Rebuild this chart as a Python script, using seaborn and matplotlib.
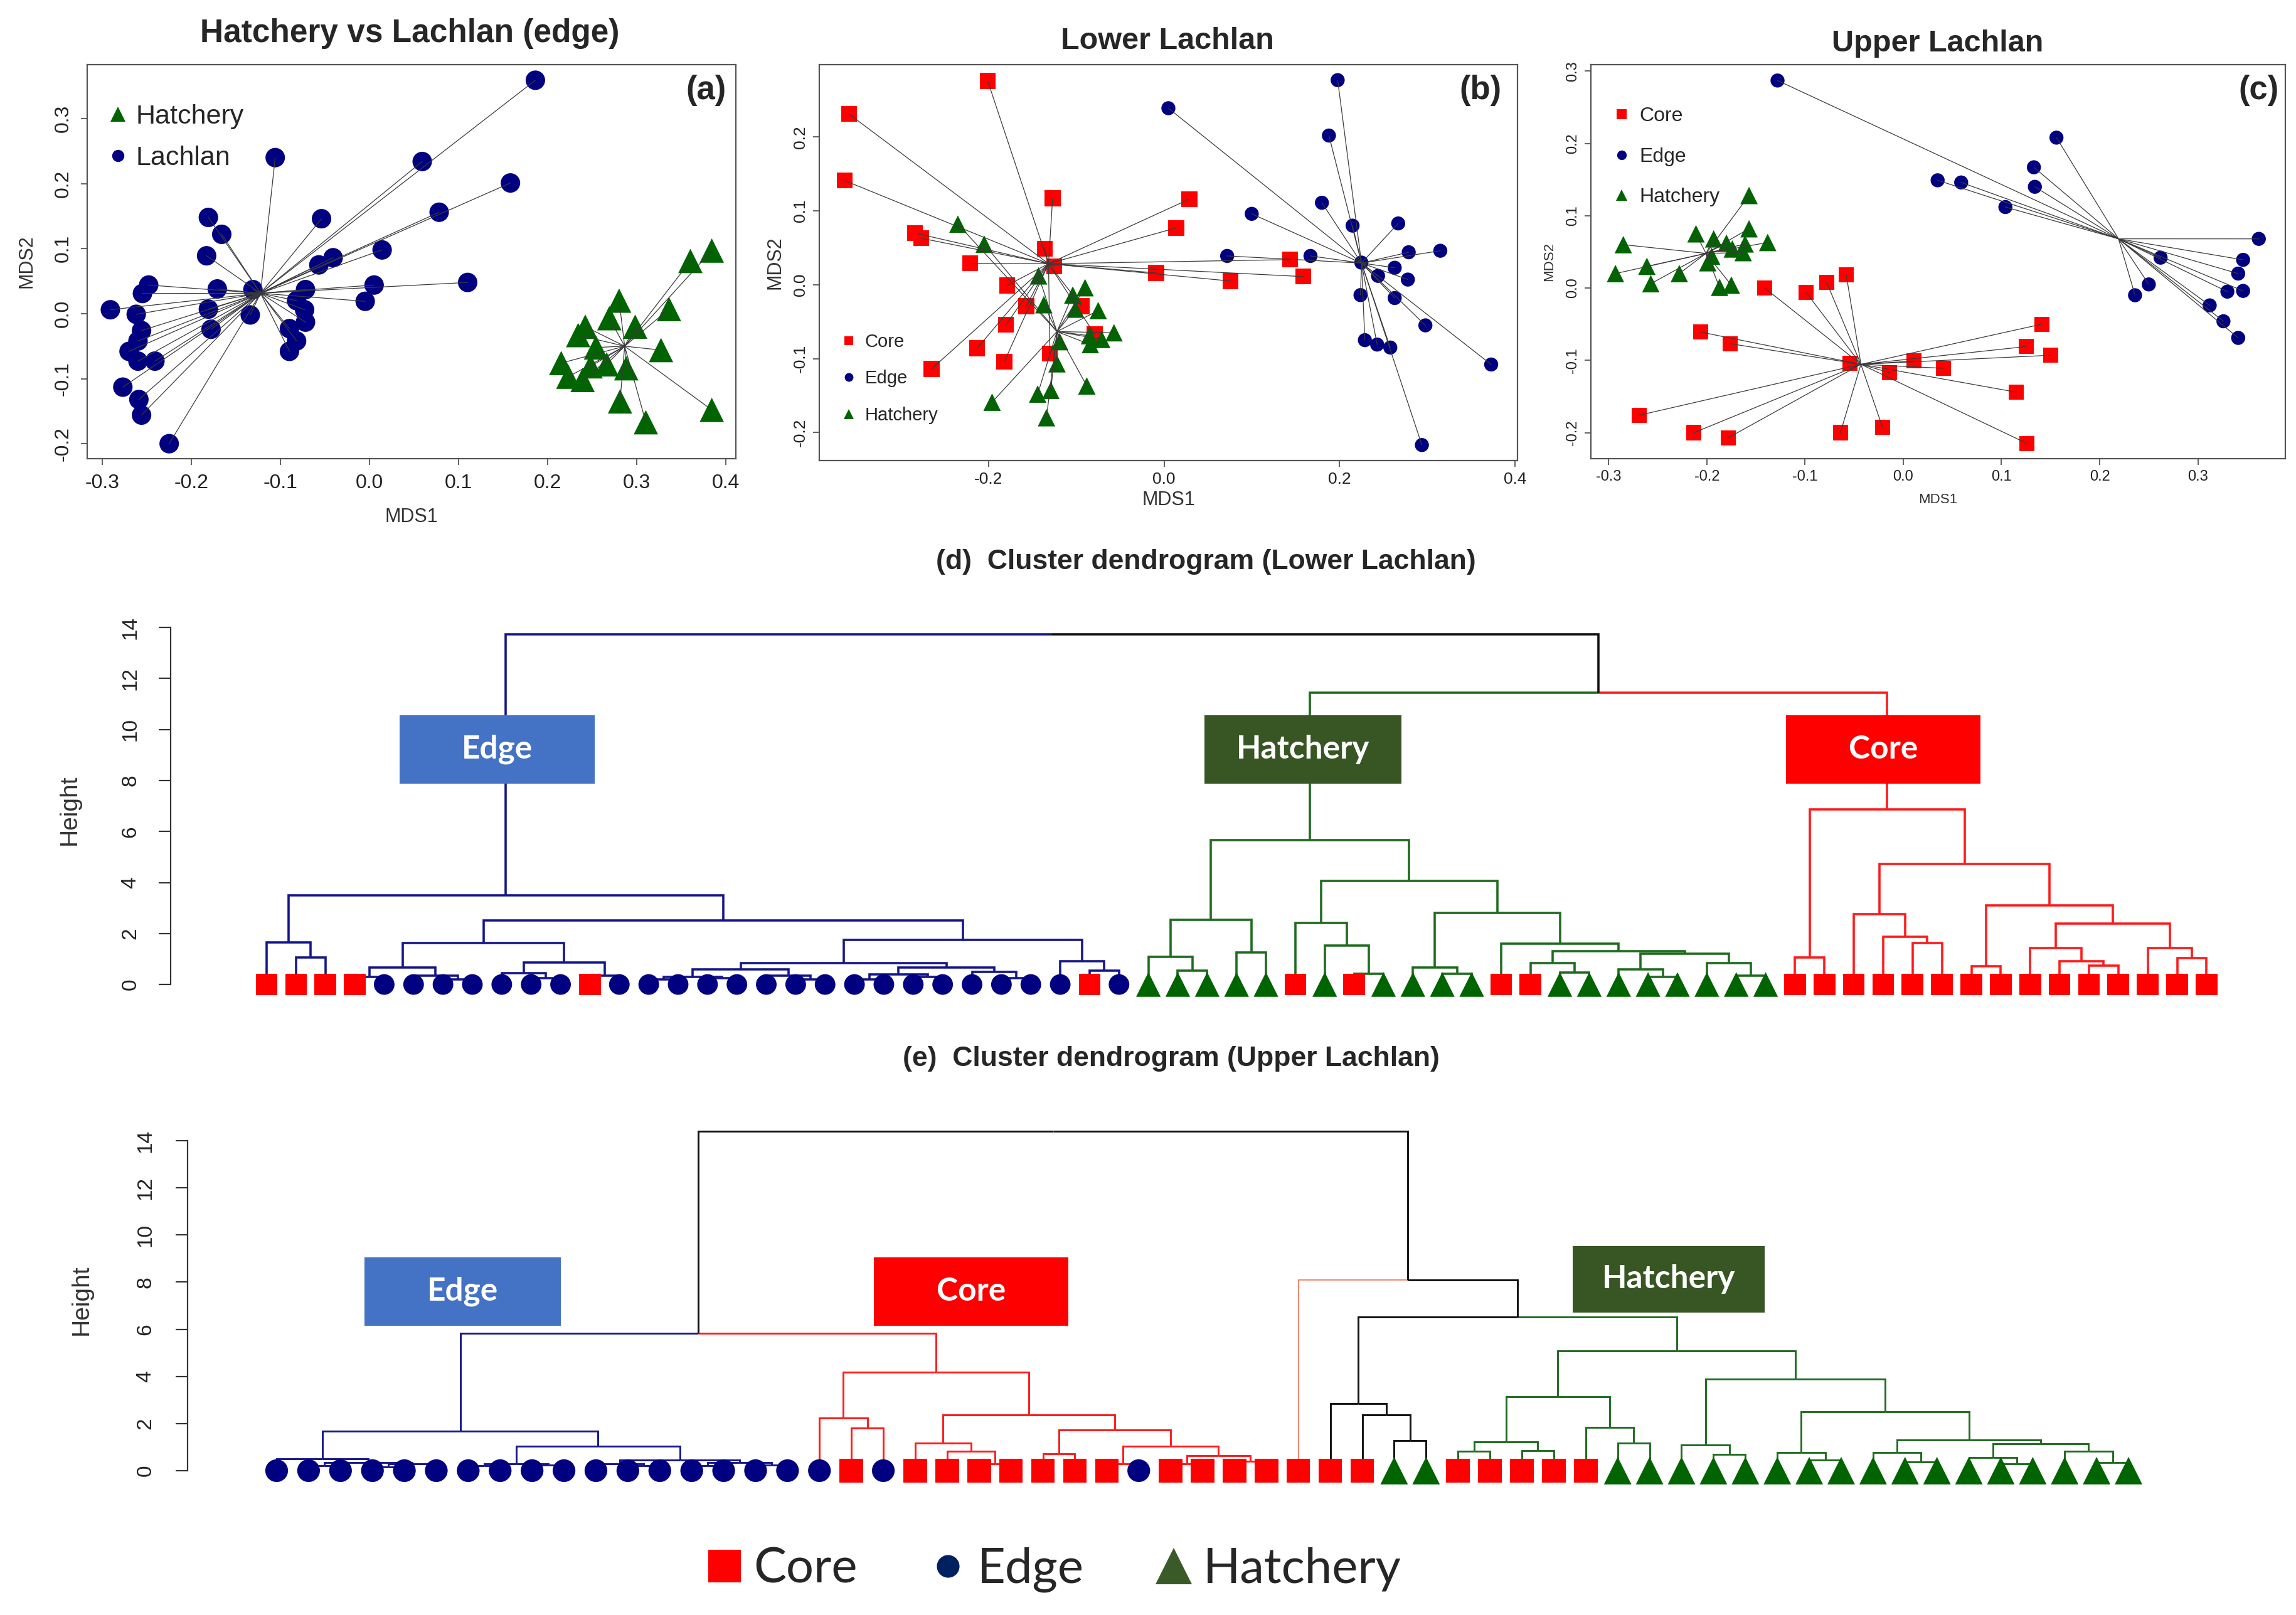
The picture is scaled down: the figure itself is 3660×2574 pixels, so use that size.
import matplotlib
matplotlib.use("Agg")
import matplotlib.pyplot as plt
from matplotlib.lines import Line2D
from matplotlib.patches import Rectangle
import seaborn as sns
import numpy as np
import pandas as pd

# ======================= DATA =======================
# (a) Hatchery vs Lachlan (edge)  -- NMDS scores
a_lach_x = [0.186, -0.106, 0.059, 0.158, 0.078, -0.181, -0.054, -0.166, -0.183, 0.014, -0.041, -0.057, 0.110, 0.005,
            -0.005, -0.248, -0.255, -0.171, -0.131, -0.072, -0.291, -0.262, -0.181, -0.134, -0.082, -0.073, -0.072,
            -0.256, -0.178, -0.090, -0.260, -0.082, -0.270, -0.090, -0.260, -0.241, -0.277, -0.259, -0.256, -0.225]
a_lach_y = [0.359, 0.240, 0.234, 0.201, 0.156, 0.148, 0.146, 0.122, 0.089, 0.098, 0.086, 0.075, 0.048, 0.044,
            0.019, 0.044, 0.031, 0.038, 0.037, 0.037, 0.006, -0.001, 0.007, -0.002, 0.020, 0.006, -0.013,
            -0.026, -0.024, -0.023, -0.042, -0.042, -0.058, -0.058, -0.073, -0.073, -0.113, -0.132, -0.156, -0.200]
a_hatch_x = [0.384, 0.360, 0.336, 0.280, 0.269, 0.242, 0.298, 0.234, 0.254, 0.327, 0.215, 0.248, 0.266, 0.288,
             0.223, 0.239, 0.281, 0.384, 0.310]
a_hatch_y = [0.097, 0.081, 0.007, 0.020, -0.007, -0.020, -0.020, -0.033, -0.052, -0.056, -0.076, -0.081, -0.078,
             -0.084, -0.097, -0.102, -0.135, -0.148, -0.167]

# (b) Lower Lachlan
b_core_x = [-0.201, -0.359, -0.364, -0.127, 0.029, 0.014, -0.284, -0.277, -0.136, -0.221, -0.125, 0.144, -0.009,
            0.159, 0.076, -0.179, -0.157, -0.094, -0.180, -0.079, -0.213, -0.130, -0.182, -0.265]
b_core_y = [0.276, 0.231, 0.141, 0.117, 0.116, 0.077, 0.070, 0.063, 0.049, 0.029, 0.025, 0.034, 0.016, 0.011,
            0.005, -0.001, -0.029, -0.029, -0.054, -0.067, -0.086, -0.093, -0.104, -0.114]
b_edge_x = [0.198, 0.005, 0.188, 0.180, 0.100, 0.215, 0.267, 0.279, 0.315, 0.072, 0.167, 0.225, 0.263, 0.244,
            0.278, 0.224, 0.263, 0.298, 0.229, 0.243, 0.258, 0.373, 0.294]
b_edge_y = [0.277, 0.239, 0.202, 0.111, 0.096, 0.080, 0.083, 0.044, 0.046, 0.039, 0.039, 0.030, 0.023, 0.012,
            0.007, -0.014, -0.018, -0.055, -0.075, -0.081, -0.085, -0.108, -0.217]
b_hatch_x = [-0.235, -0.205, -0.143, -0.090, -0.104, -0.137, -0.101, -0.075, -0.057, -0.085, -0.071, -0.119,
             -0.084, -0.122, -0.088, -0.144, -0.129, -0.196, -0.134]
b_hatch_y = [0.082, 0.055, 0.012, -0.004, -0.014, -0.027, -0.033, -0.035, -0.065, -0.069, -0.074, -0.077,
             -0.081, -0.107, -0.137, -0.148, -0.143, -0.159, -0.180]

# (c) Upper Lachlan
c_core_x = [-0.058, -0.078, -0.141, -0.099, 0.141, -0.206, -0.176, 0.125, 0.150, -0.054, 0.011, 0.041, -0.014,
            0.115, -0.269, -0.213, -0.178, -0.064, -0.021, 0.126]
c_core_y = [0.018, 0.008, 0.000, -0.006, -0.050, -0.061, -0.077, -0.081, -0.093, -0.104, -0.101, -0.111, -0.117,
            -0.144, -0.176, -0.200, -0.207, -0.200, -0.193, -0.215]
c_edge_x = [-0.128, 0.156, 0.133, 0.035, 0.059, 0.134, 0.104, 0.362, 0.262, 0.346, 0.341, 0.250, 0.236, 0.330,
            0.346, 0.312, 0.326, 0.341]
c_edge_y = [0.287, 0.208, 0.167, 0.149, 0.146, 0.140, 0.112, 0.068, 0.042, 0.039, 0.020, 0.005, -0.010, -0.005,
            -0.004, -0.024, -0.046, -0.069]
c_hatch_x = [-0.157, -0.157, -0.211, -0.138, -0.285, -0.193, -0.180, -0.161, -0.174, -0.163, -0.195, -0.199,
             -0.261, -0.293, -0.228, -0.257, -0.187, -0.175]
c_hatch_y = [0.128, 0.082, 0.075, 0.063, 0.060, 0.068, 0.062, 0.061, 0.054, 0.049, 0.044, 0.035, 0.030, 0.020,
             0.020, 0.006, 0.001, 0.004]

a_xticks = [-0.3, -0.2, -0.1, 0.0, 0.1, 0.2, 0.3, 0.4]
a_yticks = [-0.2, -0.1, 0.0, 0.1, 0.2, 0.3]
b_xticks = [-0.2, 0.0, 0.2, 0.4]
b_yticks = [-0.2, -0.1, 0.0, 0.1, 0.2]
c_xticks = [-0.3, -0.2, -0.1, 0.0, 0.1, 0.2, 0.3]
c_yticks = [-0.2, -0.1, 0.0, 0.1, 0.2, 0.3]

# Dendrogram leaf order (category runs): C = Core, E = Edge, H = Hatchery
d_leaf_runs = [("C", 4), ("E", 7), ("C", 1), ("E", 16), ("C", 1), ("E", 1), ("H", 5), ("C", 1), ("H", 1),
               ("C", 1), ("H", 4), ("C", 2), ("H", 8), ("C", 15)]
e_leaf_runs = [("E", 18), ("C", 1), ("E", 1), ("C", 7), ("E", 1), ("C", 7), ("H", 2), ("C", 5), ("H", 17)]

# merge trees: [height, left, right, (cluster)] ; ints are leaf indices ; (idx, cluster) is a coloured leaf
d_tree = [13.73,
          [3.5, [1.65, 0, [1.05, 1, 2]],
           [2.52, [1.62, [0.66, [0.3, 3, 4], [0.35, 5, [0.2, 6, 7]]],
                   [0.86, [0.45, 8, [0.25, 9, 10]], [0.35, 11, 12]]],
            [1.74, [0.84, [0.6, [0.3, [0.2, 13, 14], [0.25, 15, 16]], [0.35, 17, [0.2, 18, 19]]],
                    [0.66, [0.4, [0.2, 20, 21], [0.3, 22, 23]], [0.5, 24, [0.25, 25, 26]]]],
             [0.92, 27, [0.55, 28, 29]]]], "E"],
          [11.45,
           [5.66, [2.53, [1.08, 30, [0.54, 31, 32]], [1.25, 33, 34]],
            [4.06, [2.41, 35, [1.53, 36, [0.42, 37, 38]]],
             [2.8, [0.67, 39, [0.42, 40, 41]],
              [1.6, 42, [1.3, [0.84, 43, [0.47, 44, 45]],
                         [1.2, [0.59, 46, [0.3, 47, 48]], [0.84, 49, [0.35, 50, 51]]]]]]], "H"],
           [6.87, [1.05, 52, 53],
            [4.72, [2.77, 54, [1.87, 55, [1.62, 56, 57]]],
             [3.11, [0.71, 58, 59],
              [2.4, [1.44, 60, [0.91, 61, [0.74, 62, 63]]],
               [1.44, 64, [1.03, 65, 66]]]]], "C"]]]

e_tree = [14.4,
          [5.83,
           [1.68, [0.5, 0, [0.35, [0.2, 1, 2], [0.3, [0.15, 3, 4], 5]]],
            [1.04, [0.3, [0.2, 6, 7], [0.25, 8, 9]],
             [0.45, [0.3, 10, [0.2, 11, 12]], [0.35, [0.2, 13, 14], [0.25, 15, 16]]]], "E"],
           [4.18, [2.24, 17, [1.81, 18, 19]],
            [2.37, [1.17, 20, [0.82, 21, [0.3, 22, 23]]],
             [1.73, [0.72, 24, 25],
              [1.04, [0.3, 26, 27], [0.65, [0.3, 28, 29], [0.4, 30, 31]]]]], "C"]],
          [8.09, (32, "T"),
           [6.52, [2.86, 33, [2.37, 34, [1.27, 35, 36]]],
            [5.08, [3.15, [1.22, [0.82, 37, 38], [0.85, 39, 40]], [1.83, 41, [1.17, 42, 43]]],
             [3.88, [1.1, 44, [0.7, 45, 46]],
              [2.5, [0.77, 47, [0.45, 48, 49]],
               [1.3, [0.77, 50, [0.37, 51, 52]],
                [1.15, [0.55, 53, [0.3, 54, 55]], [0.82, 56, [0.35, 57, 58]]]]]], "H"]]]]

dendro_yticks = [0, 2, 4, 6, 8, 10, 12, 14]

# ======================= STYLE =======================
sns.set_theme(style="ticks")
plt.rcParams['font.family'] = ['Liberation Sans', 'DejaVu Sans']
plt.rcParams['axes.unicode_minus'] = False

MK_COL = {'C': '#FF0000', 'E': '#000080', 'H': '#006400'}
MK_SHAPE = {'C': 's', 'E': 'o', 'H': '^'}
LINE_COL = {'E': '#16168a', 'H': '#1f6b1f', 'C': '#ff1a1a', 'k': '#111111', 'T': '#f26a50'}
BOX_COL = {'Edge': '#4472C4', 'Hatchery': '#375623', 'Core': '#FF0000'}
TXT = '#222222'
SPINE = '#555555'

W, H = 3660, 2574
fig = plt.figure(figsize=(W / 100, H / 100), dpi=100)
fig.patch.set_facecolor('white')


def add_ax(x0, y0, x1, y1):
    return fig.add_axes([x0 / W, 1 - y1 / H, (x1 - x0) / W, (y1 - y0) / H])


def mds_panel(ax, groups, xlim, ylim, xt, yt, tick_fs, lab_fs, pad, sizes, xlab_y, ylab_x):
    frames = []
    for g, xs, ys in groups:
        xs = np.asarray(xs, float)
        ys = np.asarray(ys, float)
        cx, cy = xs.mean(), ys.mean()
        for x, y in zip(xs, ys):
            ax.plot([cx, x], [cy, y], color='#3a3a3a', lw=0.9, zorder=3)
        frames.append(pd.DataFrame({'x': xs, 'y': ys, 'g': g}))
    df = pd.concat(frames, ignore_index=True)
    sns.scatterplot(data=df, x='x', y='y', hue='g', style='g', size='g', palette=MK_COL, markers=MK_SHAPE,
                    sizes=sizes, linewidth=0, legend=False, ax=ax, zorder=2)
    ax.set_xlim(*xlim)
    ax.set_ylim(*ylim)
    ax.set_xticks(xt)
    ax.set_xticklabels([f"{v:.1f}" for v in xt], fontsize=tick_fs, color=TXT)
    ax.set_yticks(yt)
    ax.set_yticklabels([f"{v:.1f}" for v in yt], fontsize=tick_fs, color=TXT, rotation=90, va='center')
    ax.tick_params(length=7, width=1.3, color=SPINE, pad=pad, top=False, right=False)
    for s in ax.spines.values():
        s.set_color(SPINE)
        s.set_linewidth(1.6)
        s.set_visible(True)
    ax.set_xlabel('MDS1', fontsize=lab_fs, color='#333333', va='center')
    ax.set_ylabel('MDS2', fontsize=lab_fs, color='#333333', va='center')
    ax.xaxis.set_label_coords(0.5, xlab_y)
    ax.yaxis.set_label_coords(ylab_x, 0.5)


def mds_legend(ax, keys, labels, fs, msz, anchor, spacing, textpad):
    hs = [Line2D([], [], ls='', marker=MK_SHAPE[k], color=MK_COL[k], markersize=m, markeredgewidth=0)
          for k, m in zip(keys, msz)]
    ax.legend(hs, labels, loc='upper left', bbox_to_anchor=anchor, frameon=False, fontsize=fs,
              handlelength=0.8, handletextpad=textpad, labelspacing=spacing, borderpad=0, borderaxespad=0)


# ---------- (a)
axa = add_ax(139, 103, 1173, 731)
mds_panel(axa, [('E', a_lach_x, a_lach_y), ('H', a_hatch_x, a_hatch_y)], (-0.317, 0.411), (-0.223, 0.383),
          a_xticks, a_yticks, 23, 22, 10, {'E': 500, 'H': 780}, -0.148, -0.093)
mds_legend(axa, ['H', 'E'], ['Hatchery', 'Lachlan'], 31, [17, 14], (0.031, 0.900), 0.62, 0.25)
axa.text(0.985, 0.975, '(a)', transform=axa.transAxes, ha='right', va='top', fontsize=38, fontweight='bold')
fig.text(653 / W, 1 - 54 / H, 'Hatchery vs Lachlan (edge)', ha='center', va='center', fontsize=37,
         fontweight='bold')

# ---------- (b)
axb = add_ax(1306, 103, 2419, 734)
mds_panel(axb, [('C', b_core_x, b_core_y), ('E', b_edge_x, b_edge_y), ('H', b_hatch_x, b_hatch_y)],
          (-0.393, 0.403), (-0.238, 0.298), b_xticks, b_yticks, 19, 22, 6, {'C': 330, 'E': 260, 'H': 400},
          -0.10, -0.063)
mds_legend(axb, ['C', 'E', 'H'], ['Core', 'Edge', 'Hatchery'], 21, [10, 10, 12], (0.032, 0.322), 1.05, 0.47)
axb.text(0.977, 0.975, '(b)', transform=axb.transAxes, ha='right', va='top', fontsize=38, fontweight='bold')
fig.text(1861 / W, 1 - 65 / H, 'Lower Lachlan', ha='center', va='center', fontsize=35, fontweight='bold')

# ---------- (c)
axc = add_ax(2536, 103, 3643, 731)
mds_panel(axc, [('C', c_core_x, c_core_y), ('E', c_edge_x, c_edge_y), ('H', c_hatch_x, c_hatch_y)],
          (-0.318, 0.389), (-0.236, 0.309), c_xticks, c_yticks, 17, 16, 6, {'C': 300, 'E': 260, 'H': 400},
          -0.105, -0.060)
mds_legend(axc, ['C', 'E', 'H'], ['Core', 'Edge', 'Hatchery'], 23, [11, 11, 13], (0.033, 0.893), 1.08, 0.47)
axc.text(0.991, 0.975, '(c)', transform=axc.transAxes, ha='right', va='top', fontsize=38, fontweight='bold')
fig.text(3089 / W, 1 - 70 / H, 'Upper Lachlan', ha='center', va='center', fontsize=35, fontweight='bold')


# ---------- dendrograms
def draw_tree(ax, node, key, lw):
    if isinstance(node, int):
        return float(node), 0.0, key
    if isinstance(node, tuple):
        return float(node[0]), 0.0, node[1]
    h, left, right = node[0], node[1], node[2]
    if len(node) > 3:
        key = node[3]
    kids = [draw_tree(ax, c, key, lw) for c in (left, right)]
    xm = 0.5 * (kids[0][0] + kids[1][0])
    for cx, ch, ck in kids:
        ax.plot([xm, cx, cx], [h, h, ch], color=LINE_COL[ck], lw=lw * (0.55 if ck == 'T' else 1.0),
                solid_joinstyle='miter', solid_capstyle='butt', zorder=2, clip_on=False)
    return xm, h, key


def dendro_panel(ax, tree, runs, lw, xlim, ylim, sizes, tick_fs, lab_fs, tick_pad, lab_xy, boxes, box_fs):
    draw_tree(ax, tree, 'k', lw)
    cats = [c for c, n in runs for _ in range(n)]
    df = pd.DataFrame({'pos': np.arange(len(cats)), 'h': 0.0, 'cat': cats})
    sns.scatterplot(data=df, x='pos', y='h', hue='cat', style='cat', size='cat', palette=MK_COL,
                    markers=MK_SHAPE, sizes=sizes, linewidth=0, legend=False, ax=ax, zorder=4, clip_on=False)
    for name, x0, x1, y0, y1 in boxes:
        ax.add_patch(Rectangle((x0, y0), x1 - x0, y1 - y0, facecolor=BOX_COL[name], edgecolor='none', zorder=5))
        ax.text(0.5 * (x0 + x1), 0.5 * (y0 + y1), name, ha='center', va='center', color='white',
                fontsize=box_fs, fontweight='bold', family=['Lato', 'DejaVu Sans'], zorder=6)
    ax.set_xlim(*xlim)
    ax.set_ylim(*ylim)
    ax.set_xticks([])
    ax.set_yticks(dendro_yticks)
    ax.set_yticklabels([str(v) for v in dendro_yticks], rotation=90, va='center', fontsize=tick_fs, color=TXT)
    ax.tick_params(axis='y', length=14, width=1.6, color='#333333', pad=tick_pad)
    for s in ['top', 'right', 'bottom']:
        ax.spines[s].set_visible(False)
    ax.spines['left'].set_bounds(0, 14)
    ax.spines['left'].set_color('#333333')
    ax.spines['left'].set_linewidth(1.6)
    ax.set_xlabel('')
    ax.set_ylabel('Height', fontsize=lab_fs, color='#333333', va='center')
    ax.yaxis.set_label_coords(*lab_xy)
    ax.patch.set_alpha(0)


axd = add_ax(272, 990, 3560, 1602)
dendro_panel(axd, d_tree, d_leaf_runs, 2.6, (-3.266, 66.91), (-0.81, 14.25), {'C': 625, 'E': 560, 'H': 800},
             24, 28, 21, (-0.049, 0.508),
             [('Edge', 4.52, 11.16, 7.87, 10.56), ('Hatchery', 31.9, 38.6, 7.87, 10.56),
              ('Core', 51.7, 58.3, 7.87, 10.56)], 37)
fig.text(1922 / W, 1 - 895 / H, '(d)  Cluster dendrogram (Lower Lachlan)', ha='center', va='center',
         fontsize=32, fontweight='bold')

axe = add_ax(299, 1800, 3560, 2380)
dendro_panel(axe, e_tree, e_leaf_runs, 2.1, (-2.79, 61.28), (-0.96, 14.48), {'C': 730, 'E': 680, 'H': 1000},
             24, 28, 23, (-0.052, 0.531),
             [('Edge', 2.75, 8.9, 6.15, 9.05), ('Core', 18.7, 24.8, 6.15, 9.05),
              ('Hatchery', 40.6, 46.6, 6.71, 9.53)], 37)
fig.text(1867 / W, 1 - 1688 / H, '(e)  Cluster dendrogram (Upper Lachlan)', ha='center', va='center',
         fontsize=32, fontweight='bold')

# ---------- bottom legend
leg_h = [Line2D([], [], ls='', marker='s', color='#FF0000', markersize=37, markeredgewidth=0),
         Line2D([], [], ls='', marker='o', color='#002060', markersize=26, markeredgewidth=0),
         Line2D([], [], ls='', marker='^', color='#3A5A28', markersize=42, markeredgewidth=0)]
fig.legend(leg_h, ['Core', 'Edge', 'Hatchery'], loc='center left', bbox_to_anchor=(0.307, 1 - 2502 / H),
           ncol=3, frameon=False, prop={'family': 'Lato', 'size': 56}, handlelength=0.8, handletextpad=0.2,
           columnspacing=1.45, borderpad=0, borderaxespad=0)

fig.savefig('out.png', dpi=100, facecolor='white')
